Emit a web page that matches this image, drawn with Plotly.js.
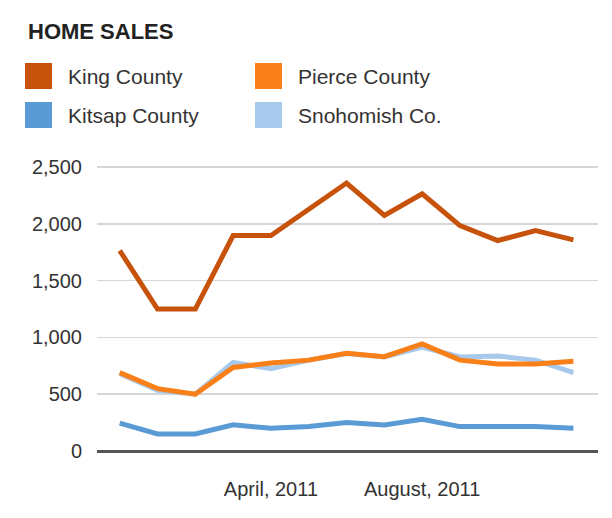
<!DOCTYPE html>
<html>
<head>
<meta charset="utf-8">
<script src="https://cdn.plot.ly/plotly-3.0.1.min.js"></script>
<style>html,body{margin:0;padding:0;background:#fff;}#chart{width:612px;height:518px;}</style>
</head>
<body>
<div id="chart"></div>
<script>
const months = ['Dec 2010','Jan 2011','Feb 2011','Mar 2011','Apr 2011','May 2011','Jun 2011','Jul 2011','Aug 2011','Sep 2011','Oct 2011','Nov 2011','Dec 2011'];
const tickVals = ['Apr 2011','Aug 2011'];
const tickText = ['April, 2011','August, 2011'];
const seriesNames = ['King County','Pierce County','Kitsap County','Snohomish Co.'];
const seriesColors = ['#c7520c','#f98018','#5b9bd5','#a7c9ec'];
const king      = [1765,1250,1250,1897,1897,2124,2359,2074,2265,1985,1853,1941,1859];
const pierce    = [690,549,500,735,775,800,860,830,943,800,765,765,790];
const kitsap    = [245,150,150,230,200,215,250,230,280,215,215,215,200];
const snohomish = [680,535,500,779,725,800,859,828,914,828,836,800,690];
const values = [king, pierce, kitsap, snohomish];

const W = 612, H = 518;
const M = {l: 97, r: 14, t: 155, b: 67};
const pw = W - M.l - M.r, ph = H - M.t - M.b;
const px = x => (x - M.l) / pw;
const py = y => (H - M.b - y) / ph;

const drawOrder = [2, 3, 1, 0];
const traces = drawOrder.map(i => ({
  type: 'scatter', mode: 'lines', x: months, y: values[i], name: seriesNames[i],
  line: {color: seriesColors[i], width: 5}, hoverinfo: 'skip'
}));

// legend: 2 columns x 2 rows
const legPos = [[25, 63], [255, 63], [25, 102], [255, 102]];
const shapes = [], annotations = [];
seriesNames.forEach((n, i) => {
  const [x0, y0] = legPos[i];
  shapes.push({type: 'rect', xref: 'paper', yref: 'paper', x0: px(x0), x1: px(x0 + 27), y0: py(y0), y1: py(y0 + 26),
    fillcolor: seriesColors[i], line: {width: 0}});
  annotations.push({xref: 'paper', yref: 'paper', x: px(x0 + 41), y: py(y0 + 14), xanchor: 'left', yanchor: 'middle',
    text: n, showarrow: false, font: {family: 'Liberation Sans, Arial, sans-serif', size: 21, color: '#333'}});
});

const layout = {
  width: W, height: H, margin: M, paper_bgcolor: '#fff', plot_bgcolor: '#fff', showlegend: false,
  font: {family: 'Liberation Sans, Arial, sans-serif', size: 20, color: '#333'},
  title: {text: '<b>HOME SALES</b>', xref: 'container', yref: 'container', x: 28 / W, xanchor: 'left',
    y: 1 - 31 / H, yanchor: 'middle', font: {size: 22, color: '#222'}},
  xaxis: {type: 'category', categoryorder: 'array', categoryarray: months, range: [-0.6, 12.65],
    tickmode: 'array', tickvals: tickVals, ticktext: tickText, showgrid: false, showline: false, zeroline: false,
    ticks: '', ticklabelstandoff: 24, tickfont: {size: 20, color: '#333'}},
  yaxis: {range: [0, 2606], tickvals: [0, 500, 1000, 1500, 2000, 2500], tickformat: ',d',
    showgrid: true, gridcolor: '#d6d6d6', gridwidth: 1.5, zeroline: true, zerolinecolor: '#555', zerolinewidth: 3,
    showline: false, ticks: '', ticklabelstandoff: 14, tickfont: {size: 20, color: '#333'}},
  shapes: shapes, annotations: annotations
};
Plotly.newPlot('chart', traces, layout, {displayModeBar: false, staticPlot: true});
</script>
</body>
</html>
